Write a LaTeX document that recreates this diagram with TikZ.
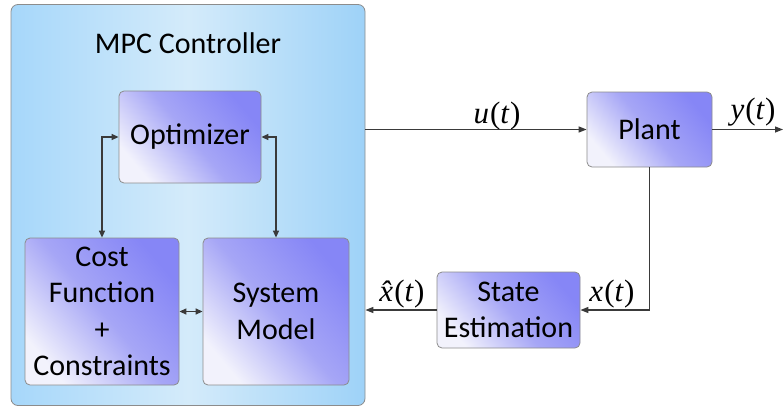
\documentclass[tikz,border=0pt]{standalone}
\usepackage{fontspec}
\setmainfont{Carlito}
\newfontfamily\tms{Liberation Serif}
\usetikzlibrary{arrows.meta,calc}
\definecolor{boxdark}{HTML}{8686F6}
\definecolor{boxmid}{HTML}{A6A6F6}
\definecolor{boxlight}{HTML}{F2F2FC}
\definecolor{ctlA}{HTML}{A6D7FA}
\definecolor{ctlB}{HTML}{D4EBFA}
\definecolor{ctlC}{HTML}{9ED2F8}
\definecolor{linec}{HTML}{3A3A3A}
\tikzset{
  blockbox/.style={draw=black!45, line width=0.8pt, rounded corners=5pt,
    top color=boxdark, bottom color=boxlight, middle color=boxmid, shading angle=-50,
    align=center, font=\fontsize{30}{36.5}\selectfont, inner sep=0pt},
  ctrlbox/.style={draw=black!45, line width=0.8pt, rounded corners=7pt,
    left color=ctlA, right color=ctlC, middle color=ctlB, inner sep=0pt},
  conn/.style={draw=linec, line width=1.3pt, -{Triangle[length=8pt,width=6pt]}},
  biconn/.style={draw=linec, line width=1.3pt, {Triangle[length=7pt,width=6pt]}-{Triangle[length=7pt,width=6pt]}},
  sig/.style={font=\tms\fontsize{31}{34}\selectfont, inner sep=0pt}
}
\newcommand{\iv}[1]{{\itshape #1}}
\begin{document}
\begin{tikzpicture}[x=1pt,y=-1pt]
\useasboundingbox (0,0) rectangle (784,408);
\node[ctrlbox, minimum width=354pt, minimum height=401pt] (ctrl) at (188,205) {};
\node[font=\fontsize{30}{36}\selectfont] (title) at (188,43) {MPC Controller};
\node[blockbox, minimum width=142pt, minimum height=92pt] (opt) at (190,137) {Optimizer};
\node[blockbox, minimum width=154pt, minimum height=147pt] (cost) at (102,311.5) {Cost\\Function\\+\\Constraints};
\node[blockbox, minimum width=146pt, minimum height=147pt] (sys) at (276,311.5) {System\\Model};
\node[blockbox, minimum width=125pt, minimum height=75pt] (plant) at (649.5,129.5) {Plant};
\node[blockbox, minimum width=143pt, minimum height=76pt] (se) at (508.5,310) {State\\Estimation};
\coordinate (yend) at (783,129.5);

\draw[biconn] (opt.west) -| (cost.north);
\draw[biconn] (opt.east) -| (sys.north);
\draw[biconn] (cost.east) -- (sys.west);
\draw[conn] (ctrl.east |- plant.west) -- (plant.west);
\draw[conn] (plant.east) -- (yend);
\draw[conn] (plant.south) |- (se.east);
\draw[conn] (se.west) -- (ctrl.east |- se.west);

\node[sig] (ul) at (497,116) {\iv{u}\kern1pt(\iv{t}\kern1pt)};
\node[sig] (yl) at (753,112) {\iv{y}\kern1pt(\iv{t}\kern1pt)};
\node[sig] (xl) at (612,294) {\iv{x}\kern1pt(\iv{t}\kern1pt)};
\node[sig] (xhl) at (402,294) {\iv{\^{x}}\kern1pt(\iv{t}\kern1pt)};
\end{tikzpicture}
\end{document}
